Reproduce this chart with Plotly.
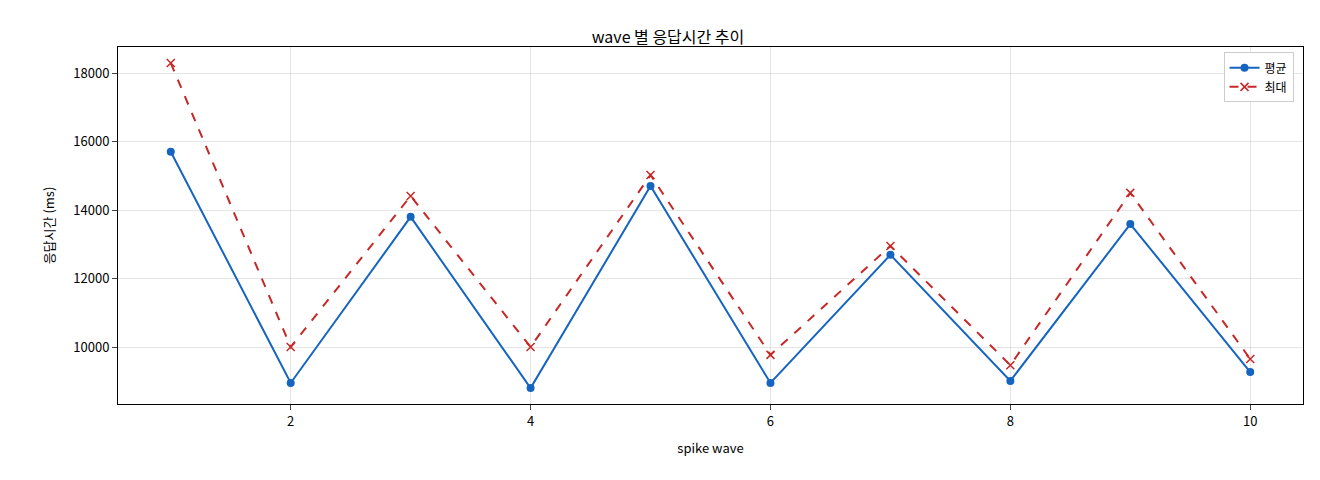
import plotly.graph_objects as go

waves = [1, 2, 3, 4, 5, 6, 7, 8, 9, 10]
avg_ms = [15700, 8950, 13800, 8800, 14700, 8950, 12690, 9010, 13590, 9270]
max_ms = [18290, 10000, 14410, 10000, 15020, 9770, 12950, 9470, 14500, 9650]

fig = go.Figure()
fig.add_trace(go.Scatter(x=waves, y=avg_ms, name="평균", mode="lines+markers",
                         line=dict(color="#1565c0", width=2), marker=dict(size=8, color="#1565c0")))
fig.add_trace(go.Scatter(x=waves, y=max_ms, name="최대", mode="lines+markers",
                         line=dict(color="#c62828", width=2, dash="dash"),
                         marker=dict(symbol="x-thin", size=8, line=dict(width=1.5, color="#c62828"), color="#c62828")))
axis = dict(showline=True, mirror=True, linecolor="black", linewidth=1, ticks="outside",
            gridcolor="rgba(0,0,0,0.1)", zeroline=False, tickfont=dict(size=13, color="black"))
fig.update_layout(
    width=1320, height=480, plot_bgcolor="white", paper_bgcolor="white",
    font=dict(family="Noto Sans CJK KR", color="black"),
    margin=dict(l=110, r=25, t=39, b=84),
    title=dict(text="wave 별 응답시간 추이", x=0.5, xanchor="center", y=0.95, font=dict(size=16)),
    xaxis=dict(axis, range=[0.56, 10.44], tickvals=[2, 4, 6, 8, 10],
               title=dict(text="spike wave", font=dict(size=13))),
    yaxis=dict(axis, range=[8336, 18759], tickvals=[10000, 12000, 14000, 16000, 18000],
               tickformat="d", title=dict(text="응답시간 (ms)", font=dict(size=13))),
    legend=dict(x=0.992, y=0.985, xanchor="right", yanchor="top", bordercolor="#cccccc",
                borderwidth=1, bgcolor="white", font=dict(size=12)),
)
fig.write_html("out.html")
